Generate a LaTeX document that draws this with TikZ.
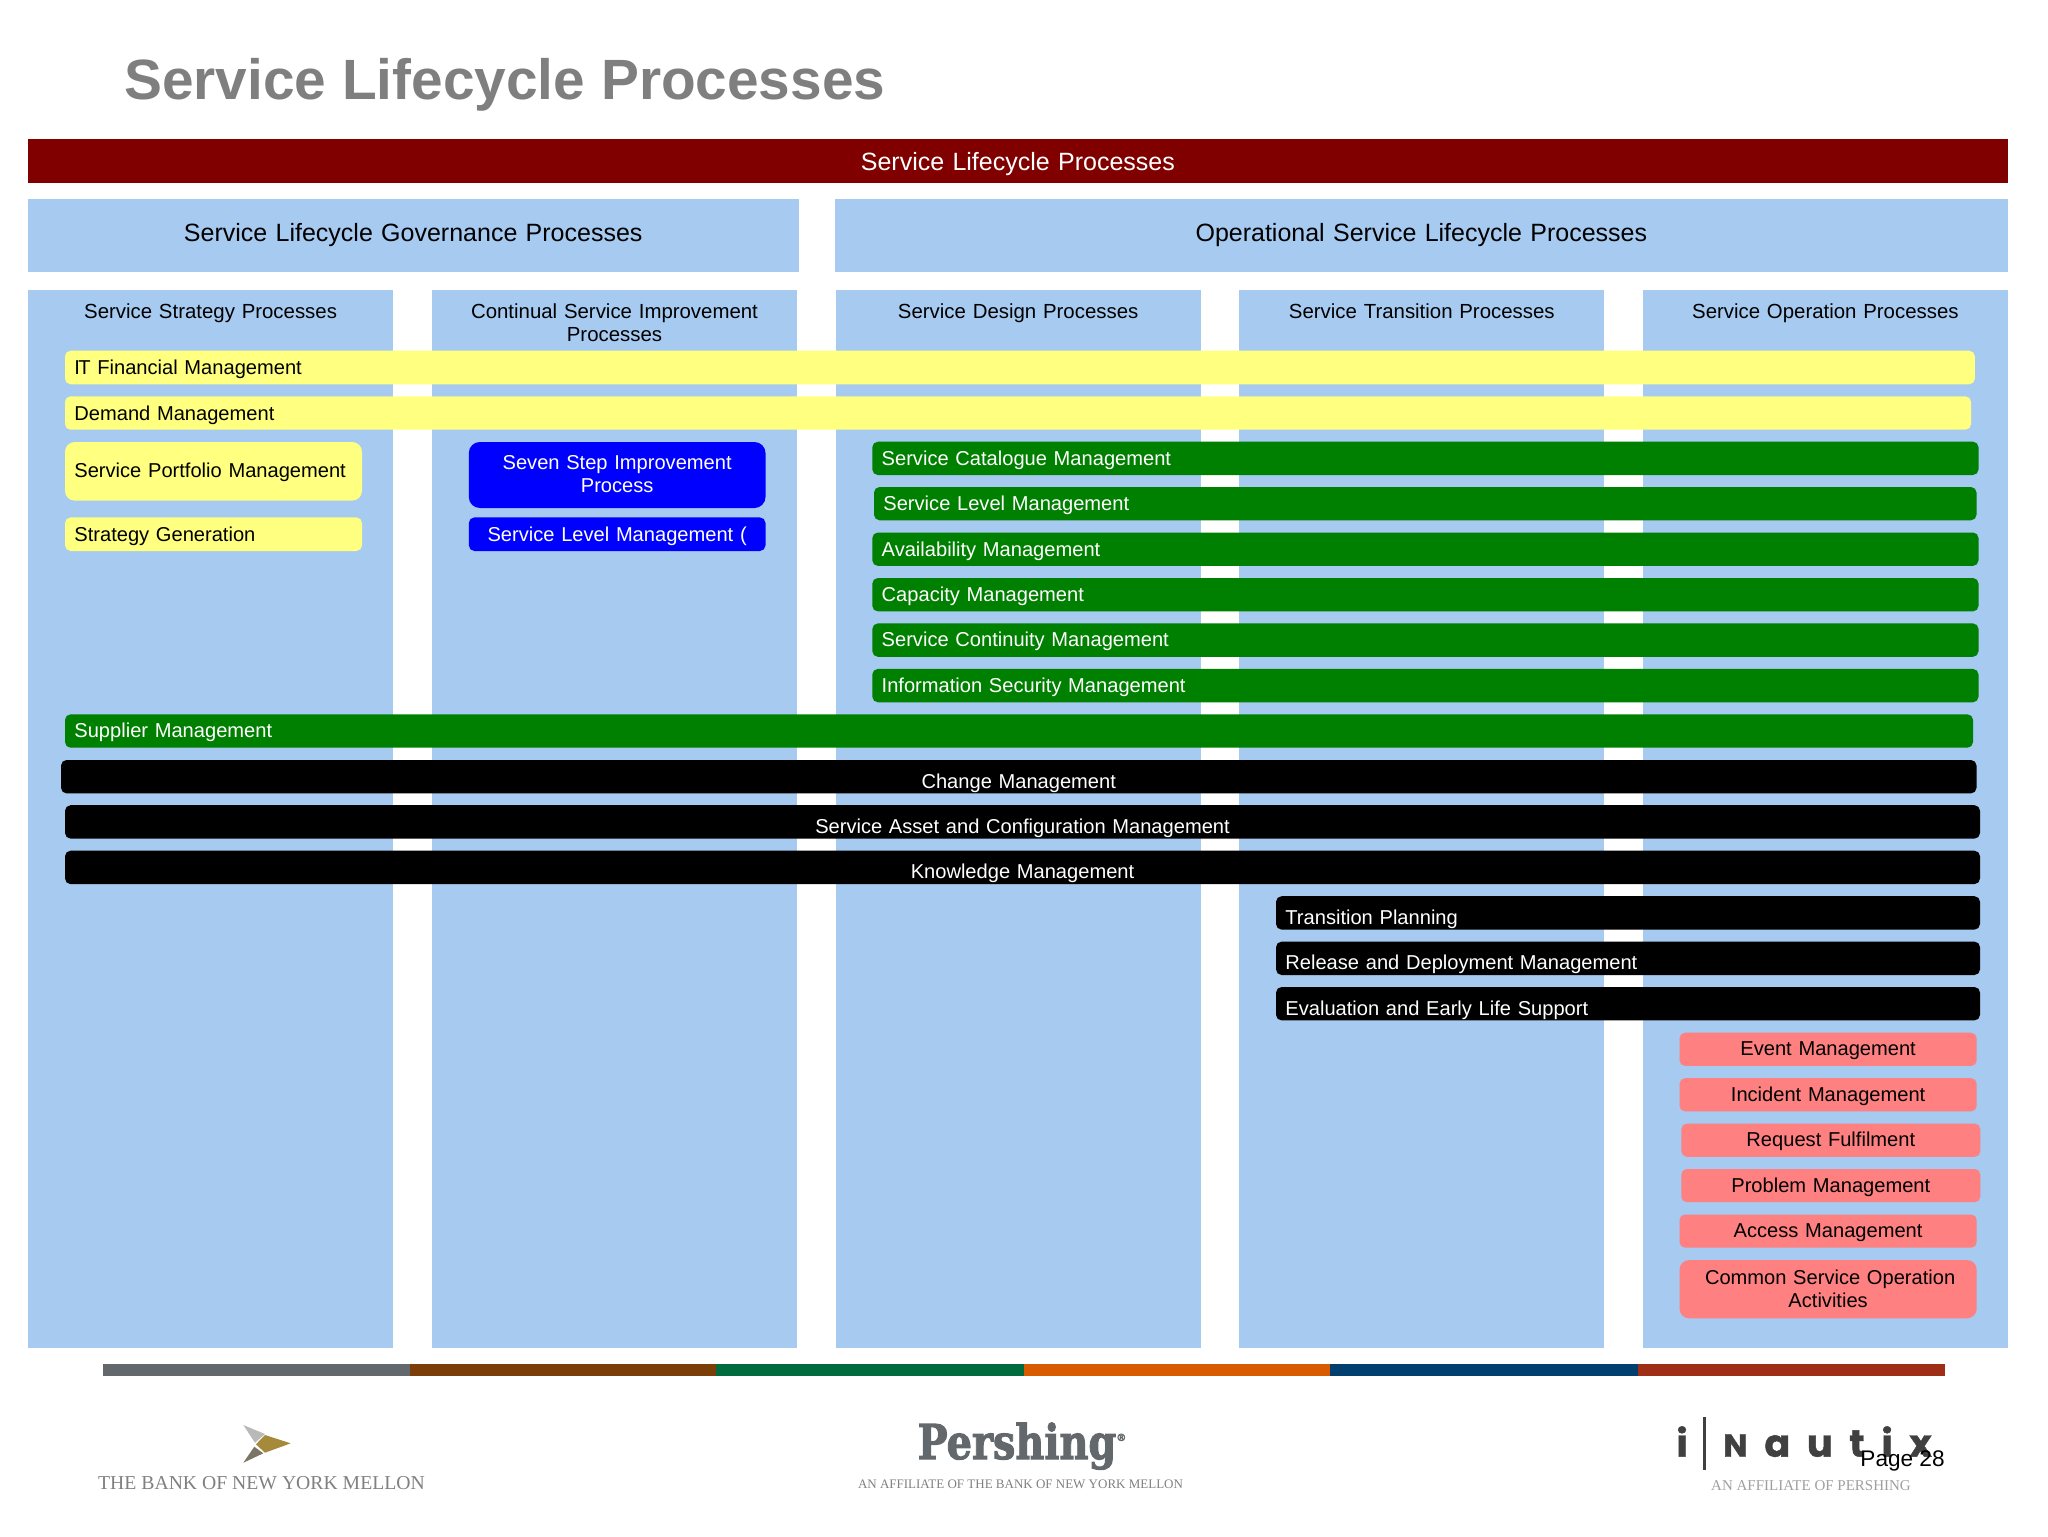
\documentclass[tikz,border=0pt]{standalone}
\usepackage{fontspec}
\usepackage{graphicx}
\setmainfont{Liberation Sans}
\newfontfamily\logoserif{Liberation Serif}
\newfontfamily\logoslab[BoldFeatures={FakeBold=2.2}]{DejaVu Serif}
\newfontfamily\logoinx[LetterSpace=44,BoldFeatures={FakeBold=1.2}]{Poppins}
\definecolor{skyband}{HTML}{A6CAF0}
\definecolor{maroonband}{HTML}{800000}
\definecolor{yellowbar}{HTML}{FFFF80}
\definecolor{greenbar}{HTML}{008000}
\definecolor{bluebar}{HTML}{0000FF}
\definecolor{salmonbar}{HTML}{FF8080}
\definecolor{titlegrey}{HTML}{7F7F7F}
\definecolor{slategrey}{HTML}{62686B}
\newcommand\coltitlefont{\fontsize{10.2}{11.4}\selectfont}
\newcommand\bodyfont{\fontsize{10.05}{11.4}\selectfont}
\newcommand\headfont{\fontsize{12.5}{14}\selectfont}
% name, style, x1, y1, x2, y2, baseline y, text
\newcommand\procbox[8]{%
  \pgfmathsetmacro\pbW{(#5-#3)/2}%
  \pgfmathsetmacro\pbH{(#6-#4)/2}%
  \pgfmathsetmacro\pbA{(#7-#4)/2}%
  \pgfmathsetmacro\pbD{(#6-#7)/2}%
  \pgfmathsetmacro\pbR{\pbH*0.1667}%
  \node[#2, anchor=north west, inner sep=0pt, outer sep=0pt,
        minimum width=\pbW pt, minimum height=\pbH pt, text width=\pbW pt,
        text height=\pbA pt, text depth=\pbD pt] (#1) at (#3,#4) {#8};}
\tikzset{
  x=0.5pt, y=-0.5pt,
  flatbox/.style={fill=skyband, align=center, text=black, font=\coltitlefont},
  headbox/.style={flatbox, font=\headfont},
  redbox/.style={fill=maroonband, align=center, text=white, font=\headfont},
  rounded/.style={rounded corners=\pbR pt, font=\bodyfont},
  leftpad/.style={align=left, execute at begin node={\hspace*{4.7pt}}},
  yellowproc/.style={rounded, fill=yellowbar, text=black},
  greenproc/.style={rounded, fill=greenbar, text=white},
  blueproc/.style={rounded, fill=bluebar, text=white, align=center},
  blackproc/.style={rounded, fill=black, text=white},
  salmonproc/.style={rounded, fill=salmonbar, text=black, align=center},
  stripe/.style={font=\bodyfont},
  logotext/.style={anchor=base, inner sep=0pt, outer sep=0pt},
}
\begin{document}
\begin{tikzpicture}
\useasboundingbox (0,0) rectangle (2048,1536);
\node[anchor=base west, inner sep=0pt, text=titlegrey, font=\fontsize{28.4}{32}\selectfont\bfseries] (title) at (124,99.5) {Service Lifecycle Processes};
\procbox{band}{redbox}{28}{139}{2007.7}{183}{170.3}{Service Lifecycle Processes}
\procbox{gov}{headbox}{28}{199.3}{798.5}{272}{241.7}{Service Lifecycle Governance Processes}
\procbox{oper}{headbox}{835}{199.3}{2007.7}{272}{241.7}{Operational Service Lifecycle Processes}
\procbox{colstrategy}{flatbox}{28}{290.3}{393.2}{1348.3}{318.6}{Service Strategy Processes}
\procbox{colcsi}{flatbox}{431.8}{290.3}{797.2}{1348.3}{318.6}{Continual Service Improvement\\Processes}
\procbox{coldesign}{flatbox}{835.7}{290.3}{1200.6}{1348.3}{318.6}{Service Design Processes}
\procbox{coltrans}{flatbox}{1239.3}{290.3}{1604.3}{1348.3}{318.6}{Service Transition Processes}
\procbox{coloper}{flatbox}{1643}{290.3}{2007.7}{1348.3}{318.6}{Service Operation Processes}
\procbox{itfin}{yellowproc,leftpad}{65}{350.7}{1974.8}{384.3}{374}{I\kern-0.8pt T Financial Management}
\procbox{demand}{yellowproc,leftpad}{65}{396.3}{1971}{429.7}{420.3}{Demand Management}
\procbox{portfolio}{yellowproc,leftpad}{65}{442}{362}{500.6}{477.2}{Service Portfolio Management}
\procbox{stratgen}{yellowproc,leftpad}{65}{517.4}{362}{551}{541}{Strategy Generation}
\procbox{sevenstep}{blueproc}{468.8}{442}{765.5}{508}{469.6}{Seven Step Improvement\\Process}
\procbox{slmcsi}{blueproc}{468.8}{517.4}{765.5}{551}{541}{Service Level Management (}
\procbox{catalogue}{greenproc,leftpad}{872.3}{441.7}{1978.5}{475}{465}{Service Catalogue Management}
\procbox{slm}{greenproc,leftpad}{874}{487}{1976.5}{520.3}{510.3}{Service Level Management}
\procbox{avail}{greenproc,leftpad}{872.3}{532.5}{1978.5}{565.9}{556}{Availability Management}
\procbox{capacity}{greenproc,leftpad}{872.3}{578}{1978.5}{611.4}{601.5}{Capacity Management}
\procbox{continuity}{greenproc,leftpad}{872.3}{623.4}{1978.5}{656.8}{646.9}{Service Continuity Management}
\procbox{infosec}{greenproc,leftpad}{872.3}{668.9}{1978.5}{702.3}{692.4}{Information Security Management}
\procbox{supplier}{greenproc,leftpad}{65}{714.3}{1973}{747.7}{737.9}{Supplier Management}
\procbox{change}{blackproc,align=center}{61}{760}{1976.5}{793.4}{788}{Change Management}
\procbox{sacm}{blackproc,align=center}{65}{805.2}{1980}{838.6}{833.4}{Service Asset and Configuration Management}
\procbox{knowledge}{blackproc,align=center}{65}{850.7}{1980}{884.1}{878.8}{Knowledge Management}
\procbox{transplan}{blackproc,leftpad}{1276}{896.2}{1980}{929.6}{924}{Transition Planning}
\procbox{release}{blackproc,leftpad}{1276}{941.6}{1980}{975}{969.5}{Release and Deployment Management}
\procbox{evaluation}{blackproc,leftpad}{1276}{987}{1980}{1020.4}{1015.3}{Evaluation and Early Life Support}
\procbox{event}{salmonproc}{1679.5}{1032.7}{1976.7}{1065.9}{1055.3}{Event Management}
\procbox{incident}{salmonproc}{1679.5}{1078.2}{1976.7}{1111.4}{1101.3}{Incident Management}
\procbox{request}{salmonproc}{1681.3}{1123.6}{1980.3}{1156.8}{1146.6}{Request Fulfilment}
\procbox{problem}{salmonproc}{1681.3}{1169}{1980.3}{1202.2}{1192}{Problem Management}
\procbox{access}{salmonproc}{1679.5}{1214.5}{1976.7}{1247.7}{1237.3}{Access Management}
\procbox{common}{salmonproc}{1679.5}{1260}{1976.7}{1318.3}{1284.3}{\hspace*{2pt}Common Service Operation\\Activities}
% colour strip
\procbox{stripeA}{stripe,fill=slategrey}{102.5}{1364}{409.5}{1376.3}{1372}{}
\procbox{stripeB}{stripe,fill={rgb,255:red,122;green,62;blue,8}}{409.5}{1364}{716}{1376.3}{1372}{}
\procbox{stripeC}{stripe,fill={rgb,255:red,0;green,107;blue,63}}{716}{1364}{1024}{1376.3}{1372}{}
\procbox{stripeD}{stripe,fill={rgb,255:red,217;green,91;blue,0}}{1024}{1364}{1330}{1376.3}{1372}{}
\procbox{stripeE}{stripe,fill={rgb,255:red,0;green,63;blue,110}}{1330}{1364}{1638}{1376.3}{1372}{}
\procbox{stripeF}{stripe,fill={rgb,255:red,158;green,46;blue,21}}{1638}{1364}{1945}{1376.3}{1372}{}
% Bank of New York Mellon logo
\fill[gray!55] (243.3,1425) -- (265,1434) -- (255,1442.7) -- cycle;
\fill[fill={rgb,255:red,165;green,138;blue,60}] (265,1435) -- (290.7,1443.3) -- (265,1452.7) -- (256,1444.3) -- cycle;
\fill[fill={rgb,255:red,125;green,116;blue,104}] (254.3,1446.7) -- (263.3,1453.3) -- (243.3,1462.7) -- cycle;
\node[logotext, text=gray, font=\logoserif\fontsize{9.85}{12}\selectfont] (bny) at (261.5,1489) {THE BANK OF NEW YORK MELLON};
% Pershing logo
\node[logotext, text=slategrey, font=\logoslab\bfseries\fontsize{24}{28}\selectfont] (pershing) at (1022,1459) {\scalebox{0.83}[1]{Pershing}\raisebox{9pt}{\fontsize{5}{6}\selectfont ®}};
\node[logotext, text=gray, font=\logoserif\fontsize{6.5}{8}\selectfont] (pershsub) at (1020.5,1488) {AN AFFILIATE OF THE BANK OF NEW YORK MELLON};
% iNautix logo
\node[anchor=base west, inner sep=0pt, text=black!75, font=\logoinx\bfseries\fontsize{19}{24}\selectfont] (inxi) at (1676,1456.7) {i};
\coordinate (inxtop) at (1704.3,1416.7);
\coordinate (inxbot) at (1704.3,1470);
\draw[black!75, line width=1.2pt] (inxtop) -- (inxbot);
\node[anchor=base west, inner sep=0pt, text=black!75, font=\logoinx\bfseries\fontsize{19}{24}\selectfont] (inxname) at (1723,1456.7) {{\fontsize{16}{18}\selectfont N}\kern8.5pt autix};
\node[logotext, text=gray!75, font=\logoserif\fontsize{7.5}{9}\selectfont] (inxsub) at (1811,1490.7) {AN AFFILIATE OF PERSHING};
\node[anchor=base east, inner sep=0pt, text=black, font=\fontsize{11.3}{13}\selectfont] (page) at (1945,1466) {Page 28};
\end{tikzpicture}
\end{document}
